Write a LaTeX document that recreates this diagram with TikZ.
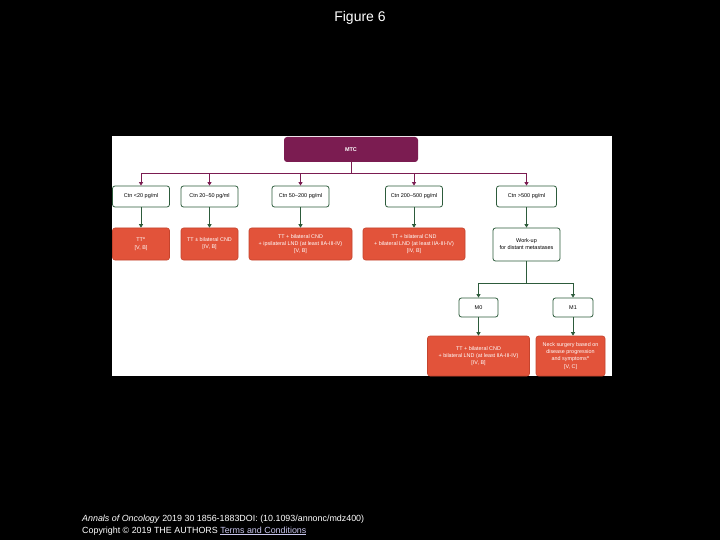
\documentclass[tikz,border=0pt]{standalone}
\usepackage{fontspec}
\setmainfont{Liberation Sans}
\usetikzlibrary{arrows.meta, positioning, calc}
\definecolor{mtcpurple}{HTML}{7B1C51}
\definecolor{treatred}{HTML}{E2533A}
\definecolor{treatedge}{HTML}{C4442D}
\definecolor{stepgreen}{HTML}{2D5B3B}
\definecolor{linklav}{HTML}{C9C6EE}

\tikzset{
  ctnbox/.style={draw=stepgreen, line width=0.8pt, fill=white, rounded corners=2.5pt,
    minimum height=21pt, align=center, inner sep=1pt, font=\fontsize{5.5}{7}\selectfont},
  redbox/.style={draw=treatedge, line width=0.6pt, fill=treatred, text=white,
    rounded corners=2.5pt, align=center, inner sep=1pt, font=\fontsize{5.4}{7.2}\selectfont},
  mtcarrow/.style={mtcpurple, line width=0.8pt, -{Triangle[width=4pt,length=3.5pt]}},
  grnarrow/.style={stepgreen, line width=1pt, -{Triangle[width=4pt,length=3.5pt]}},
}

\begin{document}
\begin{tikzpicture}[x=1pt, y=-1pt]
  \fill[black] (0,0) rectangle (720,540);
  \fill[white] (112,136) rectangle (612,376);
  \node[text=white, font=\fontsize{14}{16}\selectfont] (title) at (360,18) {Figure 6};

  \node[fill=mtcpurple, text=white, rounded corners=3pt, minimum width=134pt,
    minimum height=25pt, font=\fontsize{5.5}{6}\selectfont\bfseries] (mtc) at (351,149.5) {MTC};

  % calcitonin levels
  \foreach \i/\x/\w/\lab in {1/141/57/{Ctn <20 pg/ml}, 2/209.5/57/{Ctn 20--50 pg/ml},
      3/300.5/57/{Ctn 50--200 pg/ml}, 4/414/57/{Ctn 200--500 pg/ml},
      5/526.5/60/{Ctn >500 pg/ml}}{%
    \node[ctnbox, minimum width=\w pt] (ctn\i) at (\x,196.5) {\lab};}

  % treatments
  \node[redbox, minimum width=57pt, minimum height=32pt] (res1) at (141,244)
    {TT\textsuperscript{a}\\{[}V, B{]}};
  \node[redbox, minimum width=57pt, minimum height=32pt] (res2) at (209.5,244)
    {TT ± bilateral CND\\{[}IV, B{]}};
  \node[redbox, minimum width=103pt, minimum height=32pt] (res3) at (300.5,244)
    {TT + bilateral CND\\+ ipsilateral LND (at least IIA-III-IV)\\{[}V, B{]}};
  \node[redbox, minimum width=102pt, minimum height=32pt] (res4) at (414,244)
    {TT + bilateral CND\\+ bilateral LND (at least IIA-III-IV)\\{[}IV, B{]}};
  \node[ctnbox, minimum width=67pt, minimum height=33pt] (workup) at (526.5,244.5)
    {Work-up\\for distant metastases};

  \node[ctnbox, minimum width=39pt, minimum height=19pt] (m0) at (478.5,307.5) {M0};
  \node[ctnbox, minimum width=40pt, minimum height=19pt] (m1) at (573,307.5) {M1};
  \node[redbox, minimum width=102pt, minimum height=40pt] (resm0) at (478.5,356)
    {TT + bilateral CND\\+ bilateral LND (at least IIA-III-IV)\\{[}IV, B{]}};
  \node[redbox, minimum width=69pt, minimum height=40pt] (resm1) at (570.5,356)
    {Neck surgery based on\\disease progression\\and symptoms\textsuperscript{a}\\{[}V, C{]}};

  % connectors
  \coordinate (bus) at ($(mtc.south)+(0,11)$);
  \draw[mtcpurple, line width=0.8pt] (mtc.south) -- (bus);
  \draw[mtcpurple, line width=0.8pt] (ctn1 |- bus) -- (ctn5 |- bus);
  \foreach \i in {1,...,5}{%
    \draw[mtcarrow] (ctn\i |- bus) -- (ctn\i.north);}
  \foreach \i in {1,...,4}{%
    \draw[grnarrow] (ctn\i.south) -- (res\i.north);}
  \draw[grnarrow] (ctn5.south) -- (workup.north);

  \coordinate (split) at ($(workup.south)+(0,22)$);
  \draw[stepgreen, line width=1pt] (workup.south) -- (split);
  \draw[stepgreen, line width=1pt] (m0 |- split) -- (m1 |- split);
  \draw[grnarrow] (m0 |- split) -- (m0.north);
  \draw[grnarrow] (m1 |- split) -- (m1.north);
  \draw[grnarrow] (m0.south) -- (resm0.north);
  \draw[grnarrow] (m1.south) -- (m1.south |- resm1.north);

  % source lines
  \node[anchor=west, text=white, inner sep=0pt, font=\fontsize{8.9}{10}\selectfont] (cite) at (82,519)
    {\textit{Annals of Oncology} 2019 30 1856-1883DOI: (10.1093/annonc/mdz400)};
  \node[anchor=west, text=white, inner sep=0pt, font=\fontsize{8.9}{10}\selectfont] (copy) at (82,531)
    {Copyright © 2019 THE AUTHORS \textcolor{linklav}{\underline{Terms and Conditions}}};
\end{tikzpicture}
\end{document}
